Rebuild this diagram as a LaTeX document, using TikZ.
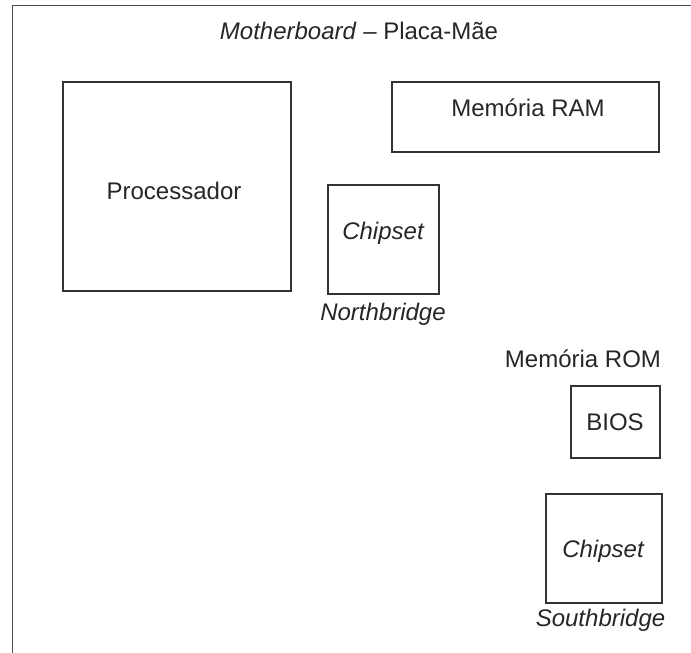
\documentclass[tikz,border=0pt]{standalone}
\usepackage{fontspec}
\setmainfont{Liberation Sans}
\begin{document}
\begin{tikzpicture}[x=1pt,y=-1pt,
  box/.style={draw=black!80,line width=2pt},
  lbl/.style={font=\fontsize{24}{28}\selectfont,text=black!85,inner sep=0pt},
  ilbl/.style={lbl,font=\fontsize{24}{28}\selectfont\itshape}]
\useasboundingbox (0,0) rectangle (691,653);
\draw[black!70,line width=1.8pt] (12.5,653) -- (12.5,5.5) -- (691,5.5);
\node[lbl] (title) at (359,31) {\textit{Motherboard} – Placa-Mãe};
\draw[box] (63,82) rectangle (291,291);
\node[lbl] (proc) at (174,191) {Processador};
\draw[box] (392,82) rectangle (659,151.5);
\node[lbl] (ram) at (528,108) {Memória RAM};
\draw[box] (328,185) rectangle (438.5,294);
\node[ilbl] (nchip) at (383,233) {Chipset};
\node[ilbl] (nb) at (383,314) {Northbridge};
\node[lbl] (rom) at (583,359) {Memória ROM};
\draw[box] (571,386) rectangle (660,457.5);
\node[lbl] (bios) at (615,422) {BIOS};
\draw[box] (546,494) rectangle (662,602.5);
\node[ilbl] (schip) at (603,551) {Chipset};
\node[ilbl] (sb) at (600.5,620) {Southbridge};
\end{tikzpicture}
\end{document}
